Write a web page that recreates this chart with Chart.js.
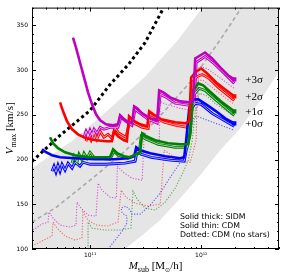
<!DOCTYPE html>
<html>
<head>
<meta charset="utf-8">
<script src="https://cdn.jsdelivr.net/npm/chart.js@4.4.1/dist/chart.umd.min.js"></script>
<style>
  html, body { margin: 0; padding: 0; background: #fff; }
</style>
</head>
<body>
<canvas id="chart" width="287" height="274"></canvas>
<script>
// axis ranges and labels
const xMin = 3e10, xMax = 5e12
const yMin = 100, yMax = 370
const xMajor = [1e11, 1e12]
const xMajorLabels = ["10\u00b9\u00b9", "10\u00b9\u00b2"]
const sigmaLabels = ["+3\u03c3", "+2\u03c3", "+1\u03c3", "+0\u03c3"]
const noteLines = ["Solid thick: SIDM", "Solid thin: CDM", "Dotted: CDM (no stars)"]

// tracks: [M_sub in 1e10 Msun/h, Vmax in km/s]
const magThick = [[7.01,336.5],[7.46,325.4],[8.11,308.6],[8.81,291.9],[9.58,275.2],[10.4,261.8],[11.3,250.6],[12.3,243.9],[13.9,239.5],[16.1,238.3],[17.8,239.5],[18.6,249.5],[19.8,246.2],[21.4,242.8],[23.8,240.6],[24.9,259.5],[26.5,257.3],[29.4,251.7],[34.7,246.2],[40.1,243.9],[41.8,277.4],[45.5,275.2],[52.5,269.6],[64.6,265.1],[77.9,264],[84.6,266.2],[88.2,313.1],[108,319.8],[125,313.1],[148,303.1],[175,294.1],[198,289.7]]
const magThin = [[8.81,225],[9.18,231.7],[9.58,226.1],[9.98,232.8],[10.4,227.2],[10.85,233.9],[11.5,229.4],[12.3,236.1],[13.3,233.9],[15.1,236.1],[17.8,236.1],[19.0,247.3],[21.0,242.8],[23.8,238.3],[25.4,256.2],[28.2,251.7],[33.3,245],[40.1,240.6],[42.7,273],[48.3,269.6],[58.2,263],[77.9,260.7],[86.4,262.9],[90,308.6],[108,315.3],[130,307.5],[161,296.4],[198,285.2]]
const magDot = [[3.06,121.2],[3.69,127.9],[4.18,130.1],[4.27,141.3],[4.64,134.6],[5.36,126.8],[6.59,124.5],[7.46,126.8],[7.62,152.4],[8.28,145.7],[9.58,137.9],[11.3,136.8],[11.8,173.6],[12.8,165.8],[15.1,158],[17.2,156.9],[17.6,192.6],[19.8,185.9],[23.8,179.2],[29.4,177],[30.7,230.5],[33.3,225],[37.7,220.5],[41.8,219.4],[42.7,265.1],[48.3,261.8],[64.6,257.3],[83,255.1],[92,257.3],[95.8,304.2],[112.5,301.9],[142,293],[198,279.6]]

const redThick = [[5.36,264],[5.71,254],[6.2,242.8],[6.88,233.9],[7.78,228.3],[9.18,223.8],[11.3,221.6],[13.9,220.5],[15.7,220.5],[16.4,231.7],[17.8,226.1],[20.2,221.6],[21.4,220.5],[22.4,248.4],[24.3,243.9],[28.2,239.5],[32.6,237.2],[34.0,254],[37,250.6],[43.6,245],[58.2,241.7],[73.1,240.6],[77.9,243.9],[81.1,291.9],[90,298.6],[99.8,301.9],[110.4,297.5],[136,286.3],[164,278.5],[198,270.7]]
const redThin = [[9.18,220.5],[9.58,228.3],[10.2,221.6],[10.85,230.5],[11.5,222.7],[12.3,231.7],[13.3,225],[14.5,228.3],[15.7,223.8],[16.8,235],[18.2,229.4],[21.0,225],[22.9,245],[24.9,240.6],[29.4,236.1],[33.3,235],[34.7,250.6],[38.5,247.3],[46.4,241.7],[59.4,238.3],[74.6,236.1],[79.5,239.5],[83,286.3],[92,293],[102,295.2],[117.5,290.8],[142,280.7],[198,266.2]]
const redDot = [[3.0,103.3],[3.54,107.8],[4.18,112.3],[4.54,114.5],[4.64,130.1],[5.04,123.4],[5.95,114.5],[7.31,110],[8.45,112.3],[8.62,141.3],[9.58,132.4],[11.3,126.8],[14.5,125.7],[17.8,130.1],[19.0,165.8],[21.0,158],[25.4,151.3],[33.3,148],[42.7,150.2],[46.4,210.5],[52.5,206],[64.6,199.3],[79.5,197],[90,221.6],[92,288.6],[103.8,288.6],[125,280.7],[154,271.8],[198,261.8]]

const greenThick = [[4.36,225],[4.64,218.3],[5.14,212.7],[5.95,208.2],[7.31,204.9],[9.58,202.6],[12.3,202.6],[15.1,202.6],[16.1,211.6],[17.5,207.1],[20.2,203.8],[22.9,202.6],[28.2,208.2],[29.4,229.4],[31.9,226.1],[38.5,221.6],[50.2,218.3],[64.6,217.1],[76.3,217.1],[79.5,232.8],[84.6,277.4],[93.9,285.2],[104,283],[125,274],[154,264],[198,254]]
const greenThin = [[6.88,196],[7.16,203.8],[7.62,197],[7.94,206],[8.45,199.3],[8.81,207.1],[9.38,201.5],[9.98,208.2],[10.85,202.6],[12.3,201.5],[15.1,200.4],[16.4,209.3],[17.8,204.9],[21.9,201.5],[27.6,207.1],[28.8,226.1],[31.9,222.7],[41,217.1],[58.2,213.8],[74.6,213.8],[79.5,228.3],[84.6,271.8],[95.8,279.6],[108,277.4],[130,268.5],[198,249.5]]
const greenDot = [[9.58,100],[9.58,130.1],[10.4,123.4],[13.6,121.2],[18.6,121.2],[23.3,123.4],[24.3,164.7],[26.5,155.8],[31.3,145.7],[38.5,143.5],[47.3,152.4],[58.2,168.1],[68.7,185.9],[76.3,199.3],[83,221.6],[88.2,255.1],[95.8,274],[110.4,271.8],[133,262.9],[198,248.4]]

const blueThick = [[3.69,211.6],[4.01,208.2],[4.54,204.9],[5.36,202.6],[7.31,201.5],[11.07,200.4],[16.8,200.4],[21.9,201.5],[24.9,203.8],[26.0,213.8],[28.2,210.5],[34.7,207.1],[47.3,203.8],[64.6,201.5],[70.2,202.6],[73.1,221.6],[77.9,257.3],[84.6,267.3],[93.9,267.3],[110.4,261.8],[136,254],[164,246.2],[198,240.6]]
const blueThin = [[4.54,187],[4.73,192.6],[4.93,185.9],[5.14,193.7],[5.36,187],[5.59,194.8],[5.95,188.1],[6.33,196],[6.88,190.4],[7.31,197],[8.11,192.6],[8.62,197],[9.98,194.8],[13.6,194.8],[20.6,196],[25.4,198.2],[26.5,209.3],[28.8,206],[35.4,202.6],[52.5,199.3],[70.2,198.2],[74.6,216],[79.5,255.1],[88.2,262.9],[99.8,261.8],[125,251.7],[198,237.2]]
const blueDot = [[14.5,100],[16.8,110],[19.4,120.1],[21.4,129],[21.4,136.8],[19.4,140.2],[19.0,145.7],[21.0,148],[22.9,143.5],[23.8,139],[28.2,139],[34.7,149.1],[42.7,162.5],[52.5,180.3],[63.2,194.8],[73.1,210.5],[79.5,227.2],[84.6,246.2],[92,248.4],[108,245],[142,239.5],[198,232.8]]

// reference relations
const dashedLine = [[3.0,130],[5.0,147],[10,177],[20,208],[40,245],[80,287],[150,335],[230,370]]
const dottedBlack = [[3.0,198],[5.36,227],[10,255],[15.1,284],[22,306],[31.3,331],[45,368]]
const bandUpper = [[3.0,190.4],[7.0,221.6],[15.1,257.3],[31.3,293],[61,333.2],[103,370]]
const bandLower = [[20.6,100],[28.2,113.4],[42.7,132.4],[64.6,156.9],[97.8,182.6],[148,210.5],[224,235],[339,266.2],[490,297.5]]

const colors = {
  mag: "#bf00bf",
  red: "#ff0000",
  green: "#008000",
  blue: "#0000ff",
}
const dotColors = {
  mag: "rgba(191, 0, 191, 0.6)",
  red: "rgba(255, 0, 0, 0.55)",
  green: "rgba(0, 128, 0, 0.6)",
  blue: "rgba(0, 0, 255, 0.6)",
}

const pts = (arr) => arr.map(([m, v]) => ({ x: m * 1e10, y: v }))

const tracks = [
  { key: "mag", thick: magThick, thin: magThin, dot: magDot },
  { key: "red", thick: redThick, thin: redThin, dot: redDot },
  { key: "green", thick: greenThick, thin: greenThin, dot: greenDot },
  { key: "blue", thick: blueThick, thin: blueThin, dot: blueDot },
]

const datasets = []

// shaded scatter band, closed along the plot edges
const bandShape = [
  ...pts(bandUpper),
  { x: xMax, y: yMax },
  ...pts(bandLower.slice().reverse()),
  { x: xMin, y: yMin },
]
datasets.push({
  data: bandShape,
  borderWidth: 0,
  borderColor: "rgba(0,0,0,0)",
  backgroundColor: "#e5e5e5",
  fill: "shape",
  order: 20,
  clip: 0,
})
datasets.push({
  data: pts(dashedLine),
  borderColor: "#a9a9a9",
  borderWidth: 1.6,
  borderDash: [4, 3],
  fill: false,
  order: 19,
})
datasets.push({
  data: pts(dottedBlack),
  borderColor: "#000",
  borderWidth: 3,
  borderDash: [3, 3],
  borderCapStyle: "butt",
  fill: false,
  order: 18,
})

tracks.forEach((t) => {
  datasets.push({
    data: pts(t.dot),
    borderColor: dotColors[t.key],
    borderWidth: 1.1,
    borderDash: [1.2, 1.6],
    fill: false,
    order: 15,
  })
})
tracks.forEach((t) => {
  // thin CDM tracks look like a pair of fine lines
  datasets.push({
    data: pts(t.thin),
    borderColor: colors[t.key],
    borderWidth: 2.8,
    fill: false,
    order: 12,
  })
  datasets.push({
    data: pts(t.thin),
    borderColor: "rgba(255,255,255,0.7)",
    borderWidth: 0.9,
    fill: false,
    order: 11,
  })
})
tracks.forEach((t) => {
  const n = t.thick.length
  datasets.push({
    data: pts(t.thick),
    borderColor: colors[t.key],
    backgroundColor: colors[t.key],
    borderWidth: 2.6,
    fill: false,
    order: 5,
    pointRadius: (c) => (c.dataIndex === n - 1 ? 3 : 0),
    pointStyle: "rect",
    pointBorderWidth: 0,
  })
})

// frame, inward ticks and text
const decorations = {
  id: "decorations",
  afterDatasetsDraw(chart) {
    const { ctx, chartArea: a, scales } = chart
    const xs = scales.x, ys = scales.y
    ctx.save()
    ctx.strokeStyle = "#000"
    ctx.lineWidth = 1
    ctx.strokeRect(a.left + 0.5, a.top + 0.5, a.right - a.left - 1, a.bottom - a.top - 1)
    ctx.beginPath()
    for (let v = yMin; v <= yMax; v += 10) {
      const y = Math.round(ys.getPixelForValue(v)) + 0.5
      const len = v % 50 === 0 ? 4 : 2
      ctx.moveTo(a.left, y); ctx.lineTo(a.left + len, y)
      ctx.moveTo(a.right, y); ctx.lineTo(a.right - len, y)
    }
    for (let p = 10; p <= 12; p++) {
      for (let k = 1; k <= 9; k++) {
        const v = k * Math.pow(10, p)
        if (v < xMin || v > xMax) continue
        const x = Math.round(xs.getPixelForValue(v)) + 0.5
        const len = k === 1 ? 4 : 2
        ctx.moveTo(x, a.bottom); ctx.lineTo(x, a.bottom - len)
        ctx.moveTo(x, a.top); ctx.lineTo(x, a.top + len)
      }
    }
    ctx.stroke()
    ctx.restore()
  },
  afterDraw(chart) {
    const { ctx, chartArea: a, scales } = chart
    const xs = scales.x, ys = scales.y
    ctx.save()
    ctx.fillStyle = "#000"
    ctx.textBaseline = "alphabetic"

    const drawParts = (parts, cx, cy) => {
      let w = 0
      parts.forEach((p) => { ctx.font = p.font; w += ctx.measureText(p.t).width })
      let x = cx - w / 2
      parts.forEach((p) => {
        ctx.font = p.font
        ctx.fillText(p.t, x, cy + (p.dy || 0))
        x += ctx.measureText(p.t).width
      })
    }
    const big = '11px "Liberation Serif"'
    const bigIt = 'italic 11px "Liberation Serif"'
    const small = '8px "Liberation Serif"'

    // x axis title
    drawParts([
      { t: "M", font: bigIt },
      { t: "sub", font: small, dy: 2.5 },
      { t: " [M", font: big },
      { t: "\u2299", font: '6px "DejaVu Sans"', dy: 2.5 },
      { t: "/h]", font: big },
    ], (a.left + a.right) / 2, 269)

    // y axis title
    ctx.save()
    ctx.translate(13, (a.top + a.bottom) / 2)
    ctx.rotate(-Math.PI / 2)
    drawParts([
      { t: "V", font: bigIt },
      { t: "max", font: small, dy: 2.5 },
      { t: " [km/s]", font: big },
    ], 0, 0)
    ctx.restore()

    // sigma labels next to the track ends
    ctx.font = '11px "Liberation Serif"'
    ctx.textBaseline = "middle"
    tracks.forEach((t, i) => {
      const last = t.thick[t.thick.length - 1]
      const x = xs.getPixelForValue(last[0] * 1e10) + 11
      const y = ys.getPixelForValue(last[1])
      ctx.fillText(sigmaLabels[i], x, y + 1)
    })

    // notes
    ctx.font = '7.8px "DejaVu Sans"'
    ctx.textBaseline = "alphabetic"
    noteLines.forEach((s, i) => ctx.fillText(s, 180, 219 + i * 9))
    ctx.restore()
  },
}

const ctx = document.getElementById("chart").getContext("2d")
new Chart(ctx, {
  type: "line",
  data: { datasets },
  options: {
    responsive: false,
    animation: false,
    layout: { padding: { top: 7, right: 8, left: 0, bottom: 0 } },
    elements: { point: { radius: 0 }, line: { tension: 0 } },
    plugins: { legend: { display: false }, tooltip: { enabled: false } },
    scales: {
      x: {
        type: "logarithmic",
        min: xMin,
        max: xMax,
        grid: { display: false, drawTicks: false },
        border: { display: false },
        afterBuildTicks: (s) => { s.ticks = xMajor.map((v) => ({ value: v })) },
        afterFit: (s) => { s.height = 25 },
        ticks: {
          autoSkip: false,
          maxRotation: 0,
          padding: 3,
          color: "#000",
          font: { family: "DejaVu Sans", size: 6 },
          callback: (v) => xMajorLabels[xMajor.indexOf(v)] || "",
        },
      },
      y: {
        min: yMin,
        max: yMax,
        grid: { display: false, drawTicks: false },
        border: { display: false },
        afterFit: (s) => { s.width = 32 },
        ticks: {
          stepSize: 50,
          includeBounds: false,
          padding: 4,
          color: "#000",
          font: { family: "DejaVu Sans", size: 6 },
        },
      },
    },
  },
  plugins: [decorations],
})
</script>
</body>
</html>
